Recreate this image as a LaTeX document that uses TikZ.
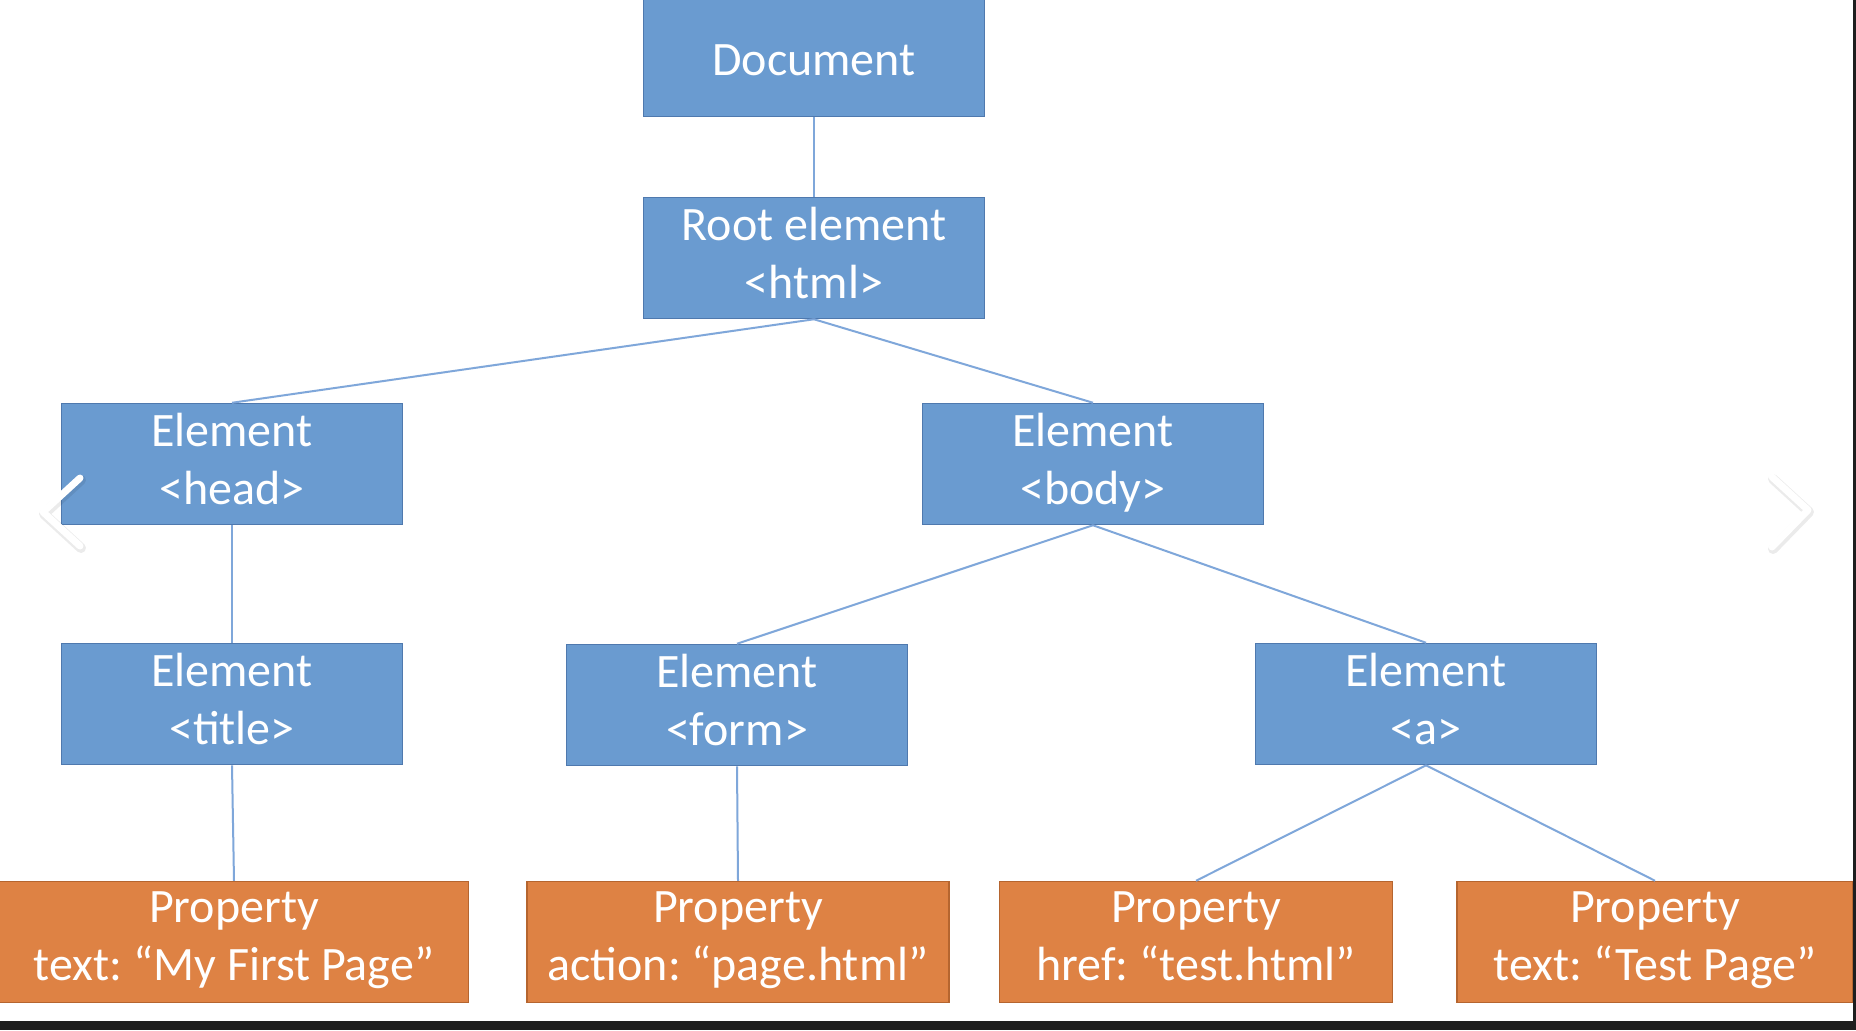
\documentclass[tikz,border=0pt]{standalone}
\usepackage{fontspec}
\setmainfont{Carlito}
\frenchspacing

\definecolor{boxblue}{HTML}{6A9BD0}
\definecolor{boxblueline}{HTML}{4F79AE}
\definecolor{boxorange}{HTML}{DE8244}
\definecolor{boxorangeline}{HTML}{B5652F}
\definecolor{linkblue}{HTML}{7FA7DA}
\definecolor{frame}{HTML}{1E1E1E}

\newcommand{\boxstrut}{\rule[-5.5pt]{0pt}{40.4pt}}

\tikzset{
  elem/.style={draw=boxblueline, fill=boxblue, line width=0.75pt, text=white,
    minimum width=170.5pt, minimum height=60.5pt, inner sep=0pt, align=center,
    font=\fontsize{24}{29}\selectfont,
    execute at begin node=\boxstrut, execute at end node=\boxstrut},
  prop/.style={elem, draw=boxorangeline, fill=boxorange},
  link/.style={draw=linkblue, line width=1pt},
  chevron/.style={white, line width=3.5pt, line cap=round, line join=round}
}

\begin{document}
\begin{tikzpicture}[x=0.5pt, y=-0.5pt]
        \useasboundingbox (0,0) rectangle (1856,1030);
        \fill[white] (0,0) rectangle (1856,1030);

        \node[elem, minimum height=58.5pt] (doc) at (814,58) {\raisebox{5.9pt}{Document}};
        \node[elem] (root) at (814,258) {Root element\\<html>};
        \node[elem] (head) at (232,464) {Element\\<head>};
        \node[elem] (body) at (1093,464) {Element\\<body>};
        \node[elem] (title) at (232,704) {Element\\<title>};
        \node[elem] (form) at (737,705) {Element\\<form>};
        \node[elem] (a) at (1426,704) {Element\\<a>};

        \node[prop, minimum width=234.5pt] (ptext) at (234,942) {Property\\text: “My First Page”};
        \node[prop, minimum width=211pt] (paction) at (738,942) {Property\\action: “page.html”};
        \node[prop, minimum width=196.5pt] (phref) at (1196,942) {Property\\href: “test.html”};
        \node[prop, minimum width=198pt] (ptest) at (1655,942) {Property\\text: “Test Page”};

        \draw[link] (doc.south) -- (root.north);
        \draw[link] (root.south) -- (head.north);
        \draw[link] (root.south) -- (body.north);
        \draw[link] (head.south) -- (title.north);
        \draw[link] (body.south) -- (form.north);
        \draw[link] (body.south) -- (a.north);
        \draw[link] (title.south) -- (ptext.north);
        \draw[link] (form.south) -- (paction.north);
        \draw[link] (a.south) -- (phref.north);
        \draw[link] (a.south) -- (ptest.north);

        % slide arrows
        \draw[chevron, black, opacity=0.08, line width=5pt] (81,480) -- (44,514) -- (81,548);
        \draw[chevron] (80,478) -- (43,512) -- (80,546);
        \draw[chevron, black, opacity=0.08, line width=5pt] (1773,479) -- (1809,512) -- (1773,549);
        \draw[chevron] (1772,477) -- (1808,510) -- (1772,547);

        \fill[frame] (1853,0) rectangle (1856,1030);
        \fill[frame] (0,1021) rectangle (1856,1030);
\end{tikzpicture}
\end{document}
